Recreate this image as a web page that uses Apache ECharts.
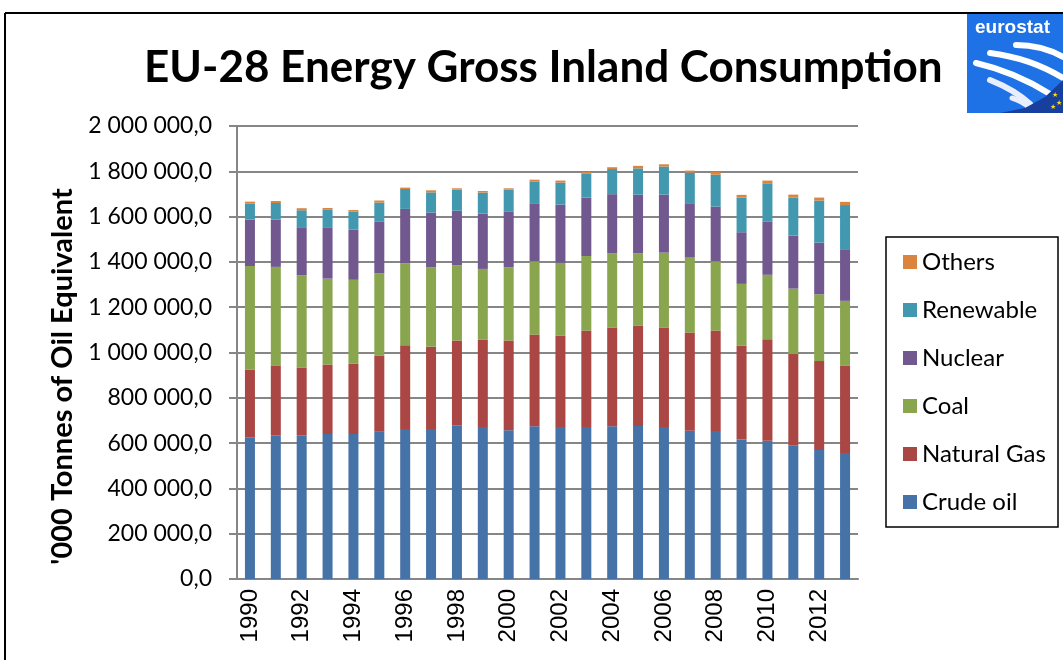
<!DOCTYPE html>
<html>
<head>
<meta charset="utf-8">
<script src="https://cdn.jsdelivr.net/npm/echarts@6/dist/echarts.min.js"></script>
<style>
  html, body { margin: 0; padding: 0; background: #fff; }
  #chart { width: 1063px; height: 660px; }
</style>
</head>
<body>
<div id="chart"></div>
<script>
// years on the x axis
const years = ['1990', '1991', '1992', '1993', '1994', '1995', '1996', '1997', '1998', '1999', '2000', '2001',
  '2002', '2003', '2004', '2005', '2006', '2007', '2008', '2009', '2010', '2011', '2012', '2013'];

// '000 toe
const crudeOil = [626000, 635000, 635000, 640000, 640000, 650000, 662000, 662000, 679000, 671000, 657000, 674000,
  671000, 671000, 674000, 675000, 671000, 654000, 653000, 616000, 610000, 591000, 569000, 556000];
const naturalGas = [299000, 308000, 299000, 307000, 310000, 337000, 370000, 364000, 374000, 385000, 396000, 405000,
  404000, 426000, 436000, 444000, 439000, 434000, 444000, 415000, 449000, 402000, 393000, 385000];
const coal = [457000, 435000, 407000, 379000, 371000, 363000, 362000, 350000, 332000, 313000, 323000, 324000,
  321000, 329000, 328000, 319000, 331000, 331000, 306000, 272000, 284000, 289000, 295000, 287000];
const nuclear = [205000, 209000, 212000, 224000, 222000, 229000, 240000, 242000, 241000, 244000, 245000, 253000,
  257000, 258000, 261000, 259000, 256000, 240000, 241000, 228000, 236000, 234000, 228000, 228000];
const renewable = [70000, 73000, 75000, 82000, 79000, 83000, 88000, 89000, 93000, 93000, 98000, 98000,
  97000, 107000, 111000, 116000, 124000, 135000, 141000, 153000, 168000, 168000, 186000, 195000];
const others = [9000, 9000, 9000, 6000, 7000, 9000, 6000, 9000, 6000, 7000, 6000, 9000,
  9000, 6000, 8000, 11000, 10000, 9000, 12000, 12000, 12000, 13000, 13000, 14000];

const legendOrder = ['Others', 'Renewable', 'Nuclear', 'Coal', 'Natural Gas', 'Crude oil'];

const gridGray = '#868686';

function fmtTick(v) {
  // 2000000 -> "2 000 000,0"
  const s = String(Math.round(v)).replace(/\B(?=(\d{3})+(?!\d))/g, ' ');
  return s + ',0';
}

function bar(name, data, color) {
  return {
    name: name,
    type: 'bar',
    stack: 'total',
    barWidth: 10,
    itemStyle: { color: color },
    data: data,
  };
}

function stripe(x1, y1, cpx, cpy, x2, y2, color, w) {
  return {
    type: 'bezierCurve',
    shape: { x1: x1, y1: y1, cpx1: cpx, cpy1: cpy, x2: x2, y2: y2 },
    style: { fill: 'none', stroke: color, lineWidth: w, lineCap: 'round' },
  };
}

function star(x, y) {
  return { type: 'text', x: x, y: y, style: { text: '★', fill: '#ffdd00', font: '7px "DejaVu Sans"' } };
}

const myechart = echarts.init(document.getElementById('chart'));

const option = {
  animation: false,
  backgroundColor: '#fff',
  title: {
    text: 'EU-28 Energy Gross Inland Consumption',
    left: 139,
    top: 41,
    textStyle: {
      fontFamily: 'Lato',
      fontWeight: 'bold',
      fontSize: 44,
      color: '#000',
    },
  },
  legend: {
    orient: 'vertical',
    left: 898,
    top: 245,
    itemWidth: 14,
    itemHeight: 14,
    itemGap: 24,
    icon: 'rect',
    data: legendOrder,
    textStyle: {
      fontFamily: 'Lato',
      fontSize: 24,
      color: '#000',
    },
  },
  grid: {
    left: 237,
    right: 205,
    top: 126,
    bottom: 81,
  },
  xAxis: [
    {
      type: 'category',
      data: years,
      axisLine: { lineStyle: { color: gridGray, width: 2 } },
      axisTick: { interval: 0, length: 7, lineStyle: { color: gridGray, width: 2 } },
      axisLabel: {
        interval: 1,
        rotate: 90,
        margin: 10,
        fontFamily: 'Liberation Sans',
        fontSize: 24,
        color: '#000',
      },
    },
  ],
  yAxis: [
    {
      type: 'value',
      min: 0,
      max: 2000000,
      interval: 200000,
      name: "'000 Tonnes of Oil Equivalent",
      nameLocation: 'middle',
      nameGap: 160,
      nameTextStyle: {
        fontFamily: 'Lato',
        fontWeight: 'bold',
        fontSize: 29,
        color: '#000',
        padding: [0, 48, 0, 0],
      },
      axisLine: { show: true, lineStyle: { color: gridGray, width: 2 } },
      axisTick: { show: true, length: 8, lineStyle: { color: gridGray, width: 2 } },
      axisLabel: {
        margin: 25,
        formatter: fmtTick,
        fontFamily: 'Lato',
        fontSize: 23,
        color: '#000',
      },
      splitLine: { lineStyle: { color: gridGray, width: 2 } },
    },
  ],
  series: [
    bar('Crude oil', crudeOil, '#4572A7'),
    bar('Natural Gas', naturalGas, '#AA4643'),
    bar('Coal', coal, '#89A54E'),
    bar('Nuclear', nuclear, '#71588F'),
    bar('Renewable', renewable, '#4198AF'),
    bar('Others', others, '#DB843D'),
  ],
  graphic: [
    // outer frame
    { type: 'line', shape: { x1: 5, y1: 13, x2: 1063, y2: 13 }, style: { stroke: '#000', lineWidth: 2 } },
    { type: 'line', shape: { x1: 5, y1: 13, x2: 5, y2: 660 }, style: { stroke: '#000', lineWidth: 2 } },
    // legend box
    {
      type: 'rect',
      shape: { x: 886, y: 237, width: 172, height: 290 },
      style: { fill: 'none', stroke: '#000', lineWidth: 1.5 },
    },
    // eurostat logo
    {
      type: 'group',
      children: [
        { type: 'rect', shape: { x: 967, y: 14, width: 96, height: 99 }, style: { fill: '#1f72e6' } },
        stripe(1016, 45, 1042, 45, 1063, 57, '#fff', 6),
        stripe(990, 53, 1030, 58, 1063, 78, '#fff', 6),
        stripe(976, 63, 1015, 72, 1050, 94, '#fff', 6),
        stripe(990, 80, 1015, 90, 1030, 104, '#e8eefc', 6),
        stripe(1012, 98, 1022, 101, 1030, 108, '#e8eefc', 5),
        {
          type: 'polygon',
          shape: { points: [[1000, 113], [1025, 108], [1045, 97], [1063, 80], [1063, 113]] },
          style: { fill: '#163f9e' },
        },
        {
          type: 'text',
          x: 975,
          y: 18,
          style: { text: 'eurostat', fill: '#fff', font: 'bold 19px "Liberation Sans"' },
        },
        star(1052, 92),
        star(1056, 100),
        star(1050, 104),
      ],
    },
  ],
};

myechart.setOption(option);
window.addEventListener('resize', () => myechart.resize());
</script>
</body>
</html>
